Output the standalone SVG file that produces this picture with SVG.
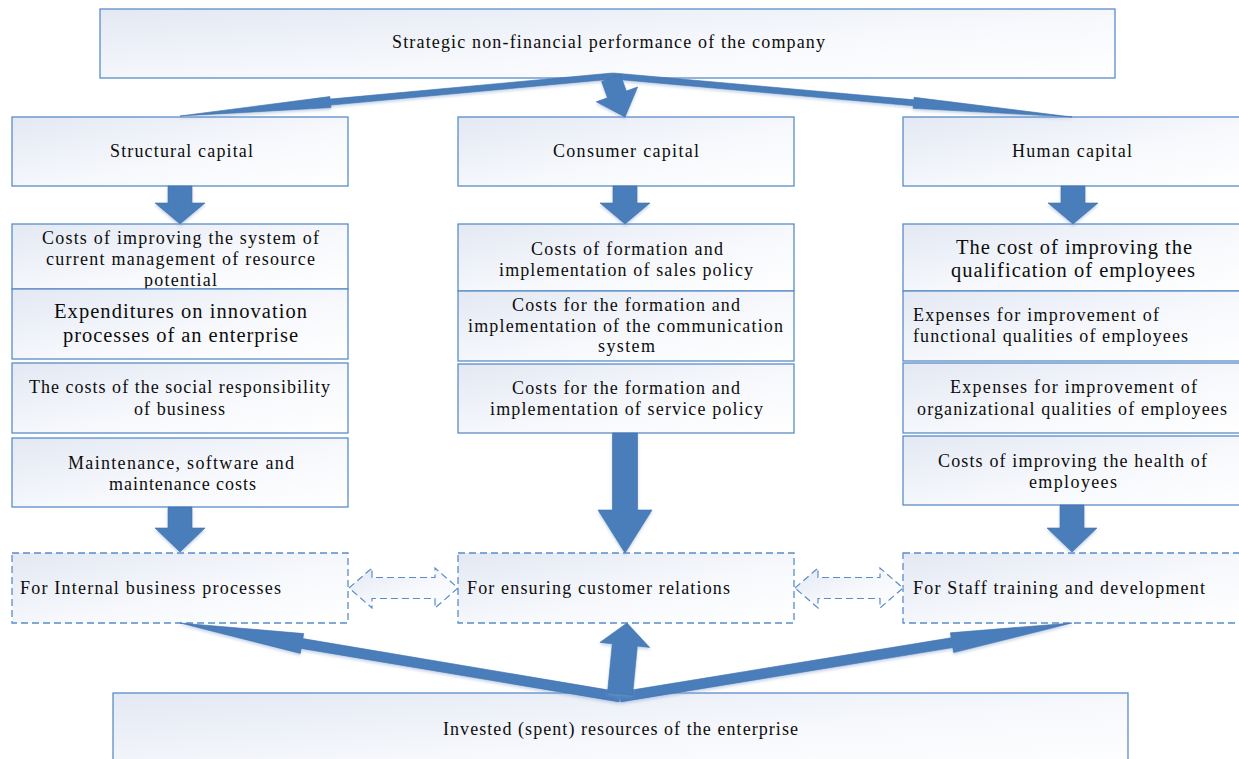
<svg xmlns="http://www.w3.org/2000/svg" width="1239" height="759" viewBox="0 0 1239 759" font-family="'Liberation Serif', 'Times New Roman', serif">
<defs>
<linearGradient id="bg" x1="0" y1="0" x2="1" y2="1">
<stop offset="0" stop-color="#e3e8f3"/>
<stop offset="0.55" stop-color="#f6f8fc"/>
<stop offset="1" stop-color="#ffffff"/>
</linearGradient>
<filter id="sh" x="-10%" y="-30%" width="120%" height="160%">
<feDropShadow dx="0" dy="2" stdDeviation="1.5" flood-color="#7f9fcf" flood-opacity="0.45"/>
</filter>
<style>
.box{fill:url(#bg);stroke:#5a8dc8;stroke-width:1.3}
.dash{fill:url(#bg);stroke:#5a8dc8;stroke-width:1.3;stroke-dasharray:7 4}
.arr{fill:#4a7ebb;stroke:#3f6fa8;stroke-width:0.6;filter:url(#sh)}
.darr{fill:url(#bg);stroke:#5a8dc8;stroke-width:1.2;stroke-dasharray:7 4}
text{font-size:18px;fill:#0d0d0d}
text.big{font-size:20.5px}
</style>
</defs>
<rect width="1239" height="759" fill="#ffffff"/>

<g id="top">
<rect class="box" x="100" y="9" width="1015" height="69"/>
<text x="392" y="48" textLength="433" lengthAdjust="spacing">Strategic non-financial performance of the company</text>
</g>

<g id="structural">
<rect class="box" x="12" y="117" width="336" height="69"/>
<text x="110" y="157" textLength="143" lengthAdjust="spacing">Structural capital</text>
</g>
<g id="consumer">
<rect class="box" x="458" y="117" width="336" height="69"/>
<text x="553" y="157" textLength="146" lengthAdjust="spacing">Consumer capital</text>
</g>
<g id="human">
<rect class="box" x="903" y="117" width="340" height="69"/>
<text x="1012" y="157" textLength="120" lengthAdjust="spacing">Human capital</text>
</g>

<g id="s1">
<rect class="box" x="12" y="224" width="336" height="65"/>
<text x="42" y="244" textLength="277" lengthAdjust="spacing">Costs of improving the system of</text>
<text x="46" y="265" textLength="269" lengthAdjust="spacing">current management of resource</text>
<text x="144" y="286" textLength="73" lengthAdjust="spacing">potential</text>
</g>
<g id="s2">
<rect class="box" x="12" y="289" width="336" height="70"/>
<text class="big" x="54" y="318" textLength="253" lengthAdjust="spacing">Expenditures on innovation</text>
<text class="big" x="63" y="342" textLength="235" lengthAdjust="spacing">processes of an enterprise</text>
</g>
<g id="s3">
<rect class="box" x="12" y="363" width="336" height="70"/>
<text x="29" y="393" textLength="301" lengthAdjust="spacing">The costs of the social responsibility</text>
<text x="134" y="415" textLength="91" lengthAdjust="spacing">of business</text>
</g>
<g id="s4">
<rect class="box" x="12" y="438" width="336" height="69"/>
<text x="68" y="469" textLength="226" lengthAdjust="spacing">Maintenance, software and</text>
<text x="109" y="490" textLength="147" lengthAdjust="spacing">maintenance costs</text>
</g>

<g id="c1">
<rect class="box" x="458" y="224" width="336" height="67"/>
<text x="531" y="255" textLength="192" lengthAdjust="spacing">Costs of formation and</text>
<text x="499" y="276" textLength="254" lengthAdjust="spacing">implementation of sales policy</text>
</g>
<g id="c2">
<rect class="box" x="458" y="291" width="336" height="70"/>
<text x="512" y="311" textLength="228" lengthAdjust="spacing">Costs for the formation and</text>
<text x="468" y="332" textLength="315" lengthAdjust="spacing">implementation of the communication</text>
<text x="598" y="352" textLength="57" lengthAdjust="spacing">system</text>
</g>
<g id="c3">
<rect class="box" x="458" y="364" width="336" height="69"/>
<text x="512" y="394" textLength="228" lengthAdjust="spacing">Costs for the formation and</text>
<text x="490" y="415" textLength="273" lengthAdjust="spacing">implementation of service policy</text>
</g>

<g id="h1">
<rect class="box" x="903" y="224" width="340" height="67"/>
<text class="big" x="956" y="254" textLength="236" lengthAdjust="spacing">The cost of improving the</text>
<text class="big" x="951" y="277" textLength="244" lengthAdjust="spacing">qualification of employees</text>
</g>
<g id="h2">
<rect class="box" x="903" y="291" width="340" height="70"/>
<text x="913" y="321" textLength="246" lengthAdjust="spacing">Expenses for improvement of</text>
<text x="913" y="342" textLength="275" lengthAdjust="spacing">functional qualities of employees</text>
</g>
<g id="h3">
<rect class="box" x="903" y="363" width="340" height="70"/>
<text x="950" y="393" textLength="247" lengthAdjust="spacing">Expenses for improvement of</text>
<text x="917" y="415" textLength="310" lengthAdjust="spacing">organizational qualities of employees</text>
</g>
<g id="h4">
<rect class="box" x="903" y="436" width="340" height="69"/>
<text x="938" y="467" textLength="269" lengthAdjust="spacing">Costs of improving the health of</text>
<text x="1029" y="488" textLength="88" lengthAdjust="spacing">employees</text>
</g>

<g id="internal">
<rect class="dash" x="12" y="553" width="336" height="70"/>
<text x="20" y="594" textLength="261" lengthAdjust="spacing">For Internal business processes</text>
</g>
<g id="customer">
<rect class="dash" x="458" y="553" width="336" height="70"/>
<text x="467" y="594" textLength="263" lengthAdjust="spacing">For ensuring customer relations</text>
</g>
<g id="staff">
<rect class="dash" x="903" y="553" width="340" height="70"/>
<text x="913" y="594" textLength="292" lengthAdjust="spacing">For Staff training and development</text>
</g>

<g id="invested">
<rect class="box" x="113" y="693" width="1015" height="80"/>
<text x="443" y="735" textLength="355" lengthAdjust="spacing">Invested (spent) resources of the enterprise</text>
</g>

<g id="connectors">
<path class="arr" d="M612.7,73 L330.1,99.1 L329.8,96.6 L180,116 L331,107.6 L330.7,105.1 L613.3,79 Z"/>
<path class="arr" d="M613.3,73 L913.9,99.8 L914.1,97.3 L1072,117 L913.1,108.3 L913.3,105.8 L612.7,79 Z"/>
<path class="arr" d="M620.4,74.6 L626.3,91 L637.6,87 L625,117 L596.2,101.8 L607.5,97.8 L601.6,81.4 Z"/>
<path class="arr" d="M168,186 L192,186 L192,203 L205,203 L180,224 L155,203 L168,203 Z"/>
<path class="arr" d="M613,186 L637,186 L637,203 L650,203 L625,224 L600,203 L613,203 Z"/>
<path class="arr" d="M1061,186 L1085,186 L1085,203 L1098,203 L1073,224 L1048,203 L1061,203 Z"/>
<path class="arr" d="M168,507 L192,507 L192,528 L205,528 L180,552 L155,528 L168,528 Z"/>
<path class="arr" d="M612.5,433 L637.5,433 L637.5,510 L652,510 L625,553 L598,510 L612.5,510 Z"/>
<path class="arr" d="M1060,505 L1084,505 L1084,528 L1097,528 L1072,552 L1047,528 L1060,528 Z"/>
<path class="darr" d="M349,588 L372,568 L372,577.5 L435,577.5 L435,568 L458,588 L435,608 L435,598.5 L372,598.5 L372,608 Z"/>
<path class="darr" d="M795,588 L818,568 L818,577.5 L880,577.5 L880,568 L903,588 L880,608 L880,598.5 L818,598.5 L818,608 Z"/>
<path class="arr" d="M620.8,692.1 L302.8,638.6 L303.7,633.6 L180,623 L300.3,653.4 L301.2,648.4 L619.2,701.9 Z"/>
<path class="arr" d="M620.8,701.9 L952.8,647.6 L953.6,652.6 L1072,623 L950.4,632.8 L951.2,637.8 L619.2,692.1 Z"/>
<path class="arr" d="M632.5,695.2 L637.3,646.1 L649.7,647.4 L627,623 L599.9,642.4 L612.3,643.7 L607.5,692.8 Z"/>
</g>
</svg>
